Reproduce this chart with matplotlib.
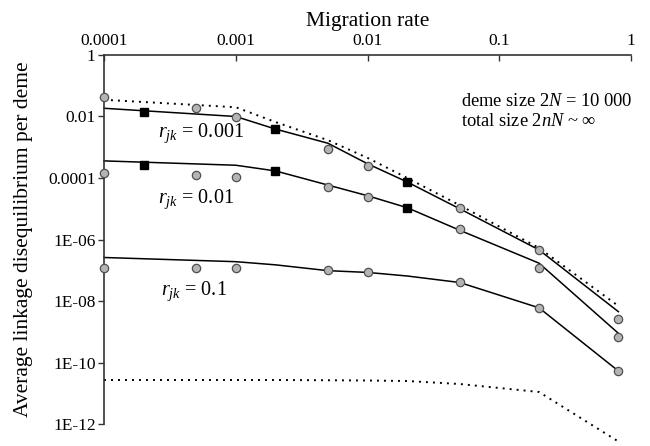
import matplotlib
matplotlib.use("Agg")
import matplotlib.pyplot as plt
from matplotlib.ticker import FixedLocator, FixedFormatter, NullLocator

plt.rcParams['font.family'] = ['Liberation Serif', 'DejaVu Serif']
plt.rcParams['mathtext.fontset'] = 'custom'
plt.rcParams['mathtext.rm'] = 'Liberation Serif'
plt.rcParams['mathtext.it'] = 'Liberation Serif:italic'

# ---- data ----
m_line = [1e-4, 1e-3, 2e-3, 5e-3, 1e-2, 2e-2, 5e-2, 0.2, 0.8]
line_r0001 = [1.85e-2, 1.0e-2, 3.9e-3, 1.35e-3, 2.9e-4, 7.4e-5, 1.0e-5, 4.6e-7, 4.5e-9]
line_r001 = [3.6e-4, 2.6e-4, 1.7e-4, 5.9e-5, 2.65e-5, 1.08e-5, 2.0e-6, 1.7e-7, 8.9e-10]
line_r01 = [2.6e-7, 1.9e-7, 1.5e-7, 9.7e-8, 8.5e-8, 6.5e-8, 4.0e-8, 6.0e-9, 5.3e-11]

dot_upper = [3.5e-2, 2.0e-2, 6.6e-3, 1.7e-3, 4.5e-4, 1.0e-4, 1.3e-5, 5.3e-7, 6.9e-9]
dot_lower = [2.7e-11, 2.7e-11, 2.7e-11, 2.65e-11, 2.6e-11, 2.5e-11, 2.0e-11, 1.1e-11, 2.7e-13]

m_circ = [1e-4, 5e-4, 1e-3, 5e-3, 1e-2, 5e-2, 0.2, 0.8]
circ_r0001 = [4.4e-2, 1.9e-2, 9.4e-3, 8.8e-4, 2.5e-4, 1.03e-5, 4.7e-7, 2.6e-9]
circ_r001 = [1.5e-4, 1.25e-4, 1.1e-4, 5.0e-5, 2.46e-5, 2.14e-6, 1.15e-7, 6.6e-10]
circ_r01 = [1.2e-7, 1.2e-7, 1.2e-7, 1.04e-7, 9.0e-8, 4.0e-8, 6.0e-9, 5.3e-11]

m_sq = [2e-4, 2e-3, 2e-2]
sq_r0001 = [1.37e-2, 3.9e-3, 7.2e-5]
sq_r001 = [2.6e-4, 1.73e-4, 1.08e-5]

xticks = [1e-4, 1e-3, 1e-2, 1e-1, 1]
xticklabels = ["0.0001", "0.001", "0.01", "0.1", "1"]
yticks = [1, 1e-2, 1e-4, 1e-6, 1e-8, 1e-10, 1e-12]
yticklabels = ["1", "0.01", "0.0001", "1E-06", "1E-08", "1E-10", "1E-12"]

fig = plt.figure(figsize=(6.5, 4.46), dpi=100)
ax = fig.add_axes([0.16, 0.0493, 0.811, 0.8274])
ax.set_xscale('log')
ax.set_yscale('log')
ax.set_xlim(1e-4, 1)
ax.set_ylim(1e-12, 1)

lw = 1.1
for y in (line_r0001, line_r001, line_r01):
    ax.plot(m_line, y, color='black', lw=lw, clip_on=False, zorder=2)
for y in (dot_upper, dot_lower):
    ax.plot(m_line, y, color='black', lw=1.4, ls=(0, (1, 2.6)), clip_on=False, zorder=2)

for y in (circ_r0001, circ_r001, circ_r01):
    ax.plot(m_circ, y, ls='none', marker='o', ms=6, mfc='#b4b4b4', mec='#505050',
            mew=0.9, clip_on=False, zorder=3)
for y in (sq_r0001, sq_r001):
    ax.plot(m_sq, y, ls='none', marker='s', ms=6, mfc='black', mec='black',
            clip_on=False, zorder=3)

# spines
ax.spines['right'].set_visible(False)
ax.spines['bottom'].set_visible(False)
for s in ('top', 'left'):
    ax.spines[s].set_color('#333333')
    ax.spines[s].set_linewidth(1.2)

ax.xaxis.tick_top()
ax.xaxis.set_label_position('top')
ax.xaxis.set_major_locator(FixedLocator(xticks))
ax.xaxis.set_major_formatter(FixedFormatter(xticklabels))
ax.xaxis.set_minor_locator(NullLocator())
ax.yaxis.set_major_locator(FixedLocator(yticks))
ax.yaxis.set_major_formatter(FixedFormatter(yticklabels))
ax.yaxis.set_minor_locator(NullLocator())
ax.tick_params(axis='x', direction='in', length=4, width=1.0, labelsize=12.5, pad=4, colors='#333333', labelcolor='black')
ax.tick_params(axis='y', direction='out', length=4, width=1.0, labelsize=12.5, pad=2, colors='#333333', labelcolor='black')

ax.set_xlabel("Migration rate", fontsize=15.5, labelpad=5)
ax.set_ylabel("Average linkage disequilibrium per deme", fontsize=15.5, labelpad=11)

# annotations
tfs = 14.5
ax.text(2.58e-4, 10 ** (-(133 - 55) / 30.75), r"$r_{jk}$ = 0.001", fontsize=tfs, va='center', ha='left')
ax.text(2.58e-4, 10 ** (-(199 - 55) / 30.75), r"$r_{jk}$ = 0.01", fontsize=tfs, va='center', ha='left')
ax.text(2.7e-4, 10 ** (-(291 - 55) / 30.75), r"$r_{jk}$ = 0.1", fontsize=tfs, va='center', ha='left')

ax.text(0.678, 0.875, r"deme size 2$N$ = 10 000", transform=ax.transAxes, fontsize=13.3, va='center', ha='left')
ax.text(0.678, 0.821, r"total size 2$nN$ ~ ∞", transform=ax.transAxes, fontsize=13.3, va='center', ha='left')

fig.savefig("out.png", dpi=100)
